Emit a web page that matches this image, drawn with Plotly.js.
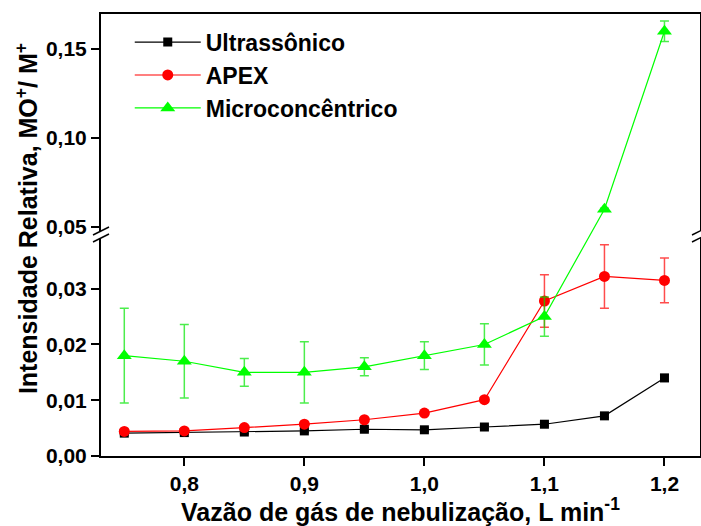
<!DOCTYPE html>
<html>
<head>
<meta charset="utf-8">
<script src="https://cdn.plot.ly/plotly-3.0.1.min.js"></script>
<style>
  html, body { margin: 0; padding: 0; background: #ffffff; }
  #chart { width: 701px; height: 526px; }
</style>
</head>
<body>
<div id="chart"></div>
<script>
// Nebulizer gas flow rate (L/min)
const flow = [0.75, 0.80, 0.85, 0.90, 0.95, 1.00, 1.05, 1.10, 1.15, 1.20];

// Relative oxide intensity MO+/M+ for each nebulizer, with standard deviations
const ultrassonico    = [0.0041, 0.0042, 0.0043, 0.0045, 0.0048, 0.0047, 0.0052, 0.0057, 0.0072, 0.0140];
const ultrassonicoErr = [0.0003, 0.0003, 0.0003, 0.0003, 0.0003, 0.0003, 0.0003, 0.0003, 0.0003, 0.0006];

const apex    = [0.0044, 0.0045, 0.0051, 0.0057, 0.0065, 0.0077, 0.0101, 0.0278, 0.0322, 0.0315];
const apexErr = [0.0003, 0.0003, 0.0003, 0.0003, 0.0003, 0.0003, 0.0004, 0.0047, 0.0057, 0.0040];

const microconcentrico    = [0.018, 0.017, 0.015, 0.015, 0.016, 0.018, 0.020, 0.025, 0.060, 0.160];
const microconcentricoErr = [0.0085, 0.0066, 0.0025, 0.0055, 0.0016, 0.0025, 0.0037, 0.0035, 0.0006, 0.0058];

const seriesNames = ['Ultrassônico', 'APEX', 'Microconcêntrico'];

// Axis ticks
const xTickValues = [0.8, 0.9, 1.0, 1.1, 1.2];
const xTickLabels = ['0,8', '0,9', '1,0', '1,1', '1,2'];
const yTickValues = [0.00, 0.01, 0.02, 0.03, 0.05, 0.10, 0.15];
const yTickLabels = ['0,00', '0,01', '0,02', '0,03', '0,05', '0,10', '0,15'];

// Broken y axis: two linear segments stacked on one [0, 1] axis
const lowerSeg = { min: 0.0,    max: 0.0391, from: 0.0,    to: 0.4932 };
const upperSeg = { min: 0.0472, max: 0.1697, from: 0.5068, to: 1.0 };

function breakScale(v) {
  if (v <= lowerSeg.max) {
    return lowerSeg.from + (v - lowerSeg.min) / (lowerSeg.max - lowerSeg.min) * (lowerSeg.to - lowerSeg.from);
  }
  if (v >= upperSeg.min) {
    return upperSeg.from + (v - upperSeg.min) / (upperSeg.max - upperSeg.min) * (upperSeg.to - upperSeg.from);
  }
  // inside the gap: bridge linearly
  return lowerSeg.to + (v - lowerSeg.max) / (upperSeg.min - lowerSeg.max) * (upperSeg.from - lowerSeg.to);
}

function makeTrace(name, values, errors, color, errColor, symbol, size) {
  const y = values.map(breakScale);
  return {
    type: 'scatter',
    mode: 'lines+markers',
    name: name,
    x: flow,
    y: y,
    customdata: values,
    line: { color: color, width: 1.2 },
    marker: { color: color, symbol: symbol, size: size },
    error_y: {
      type: 'data',
      symmetric: false,
      array: values.map((v, i) => breakScale(v + errors[i]) - breakScale(v)),
      arrayminus: values.map((v, i) => breakScale(v) - breakScale(v - errors[i])),
      color: errColor,
      thickness: 1.5,
      width: 4.5
    }
  };
}

const traces = [
  makeTrace(seriesNames[0], ultrassonico, ultrassonicoErr, '#000000', 'rgba(0,0,0,0.75)', 'square', 9),
  makeTrace(seriesNames[1], apex, apexErr, '#ff0000', 'rgba(255,0,0,0.7)', 'circle', 11),
  makeTrace(seriesNames[2], microconcentrico, microconcentricoErr, '#00ff00', 'rgba(0,230,0,0.7)', 'triangle-up', 13)
];

const baseFont = { family: 'Liberation Sans, Arial, sans-serif', color: '#000000', weight: 'bold' };

// Break marks drawn across the left and right frame lines
const gapCenter = (lowerSeg.to + upperSeg.from) / 2;
function breakMarks(xPaper) {
  return [
    { type: 'rect', xref: 'paper', yref: 'paper', xsizemode: 'pixel', ysizemode: 'pixel',
      xanchor: xPaper, yanchor: gapCenter, x0: -2, x1: 2, y0: -3, y1: 4,
      fillcolor: '#ffffff', line: { width: 0 }, layer: 'above' },
    { type: 'line', xref: 'paper', yref: 'paper', xsizemode: 'pixel', ysizemode: 'pixel',
      xanchor: xPaper, yanchor: gapCenter, x0: -8, x1: 8, y0: 0, y1: 8,
      line: { color: '#000000', width: 1.5 }, layer: 'above' },
    { type: 'line', xref: 'paper', yref: 'paper', xsizemode: 'pixel', ysizemode: 'pixel',
      xanchor: xPaper, yanchor: gapCenter, x0: -8, x1: 8, y0: -7, y1: 1,
      line: { color: '#000000', width: 1.5 }, layer: 'above' }
  ];
}

const layout = {
  width: 701,
  height: 526,
  margin: { l: 101, r: 1, t: 14, b: 70, pad: 0 },
  paper_bgcolor: '#ffffff',
  plot_bgcolor: '#ffffff',
  font: Object.assign({ size: 20 }, baseFont),
  showlegend: true,
  legend: {
    x: 0.048, y: 0.985, xanchor: 'left', yanchor: 'top',
    bgcolor: 'rgba(0,0,0,0)',
    borderwidth: 0,
    itemwidth: 66,
    tracegroupgap: 0,
    font: Object.assign({ size: 23 }, baseFont)
  },
  xaxis: {
    range: [0.7306, 1.2296],
    tickmode: 'array',
    tickvals: xTickValues,
    ticktext: xTickLabels,
    ticks: 'outside',
    ticklen: 8,
    tickwidth: 2,
    tickcolor: '#000000',
    tickfont: Object.assign({ size: 21 }, baseFont),
    showline: true,
    linecolor: '#000000',
    linewidth: 2,
    mirror: true,
    showgrid: false,
    zeroline: false,
    title: {
      text: 'Vazão de gás de nebulização, L min<sup>-1</sup>',
      font: Object.assign({ size: 25 }, baseFont),
      standoff: 10
    }
  },
  yaxis: {
    range: [0, 1],
    tickmode: 'array',
    tickvals: yTickValues.map(breakScale),
    ticktext: yTickLabels,
    ticks: 'outside',
    ticklen: 8,
    tickwidth: 2,
    tickcolor: '#000000',
    tickfont: Object.assign({ size: 21 }, baseFont),
    showline: true,
    linecolor: '#000000',
    linewidth: 2,
    mirror: true,
    showgrid: false,
    zeroline: false
  },
  annotations: [
    {
      text: 'Intensidade Relativa, MO<sup>+</sup>/ M<sup>+</sup>',
      textangle: -90,
      xref: 'paper', yref: 'paper',
      x: -0.1235, y: 0.536,
      xanchor: 'center', yanchor: 'middle',
      showarrow: false,
      font: Object.assign({ size: 25 }, baseFont)
    }
  ],
  shapes: breakMarks(0).concat(breakMarks(1))
};

Plotly.newPlot('chart', traces, layout, { displayModeBar: false, staticPlot: true });
</script>
</body>
</html>
